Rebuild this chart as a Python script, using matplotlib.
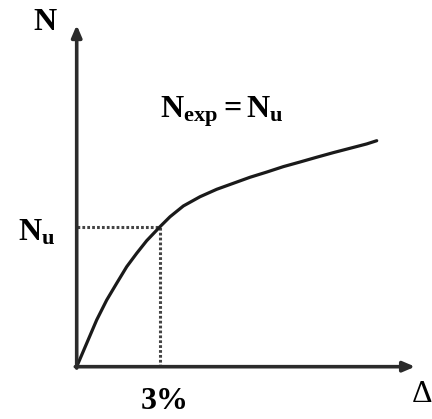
import matplotlib
matplotlib.use("Agg")
import matplotlib.pyplot as plt

plt.rcParams['font.family'] = ['Liberation Serif', 'DejaVu Serif']
plt.rcParams['mathtext.fontset'] = 'custom'
plt.rcParams['mathtext.rm'] = 'Liberation Serif:bold'
plt.rcParams['mathtext.it'] = 'Liberation Serif:bold'
plt.rcParams['mathtext.bf'] = 'Liberation Serif:bold'

# load-displacement curve (displacement in %, load normalised by Nu)
disp = [0, 0.36, 0.72, 1.08, 1.44, 1.80, 2.16, 2.52, 3.0, 3.36, 3.84, 4.44,
        5.04, 5.64, 6.24, 6.84, 7.44, 8.04, 8.64, 9.24, 9.84, 10.44, 10.80]
load = [0, 0.167, 0.334, 0.476, 0.596, 0.714, 0.81, 0.90, 1.0, 1.071, 1.148, 1.214,
        1.267, 1.31, 1.353, 1.39, 1.429, 1.462, 1.496, 1.529, 1.56, 1.591, 1.614]
disp_u = 3.0
load_u = 1.0
x_end, y_end = 12.18, 2.44

fig = plt.figure(figsize=(4.32, 4.19), dpi=100)
ax = fig.add_axes([0, 0, 1, 1])
ax.set_xlim(-2.761, 12.79)
ax.set_ylim(-0.3736, 2.619)
ax.axis('off')

axis_col = '#2b2b2b'
arrow = dict(arrowstyle='-|>,head_length=0.7,head_width=0.3', lw=2.6,
             color=axis_col, shrinkA=0, shrinkB=0)
ax.annotate('', xy=(0, y_end), xytext=(0, -0.01), arrowprops=arrow)
ax.annotate('', xy=(x_end, 0), xytext=(-0.05, 0), arrowprops=arrow)

# dotted guide lines
guide = dict(color='#444444', lw=2.2, ls=(0, (0.9, 0.7)))
ax.plot([0, disp_u], [load_u, load_u], **guide)
ax.plot([disp_u, disp_u], [0, load_u], **guide)

ax.plot(disp, load, color='#1a1a1a', lw=2.3, solid_capstyle='round',
        solid_joinstyle='round')

fs = 23
ax.text(-1.14, 2.46, 'N', fontsize=fs, fontweight='bold', ha='center', va='center')
ax.text(-1.43, 0.955, r'$\mathrm{N_u}$', fontsize=fs, ha='center', va='center')
ax.text(disp_u + 0.15, -0.25, '3%', fontsize=fs, fontweight='bold', ha='center', va='center')
ax.text(3.0, 1.82, r'$\mathrm{N_{exp} = N_u}$', fontsize=fs, ha='left', va='center')
ax.text(12.05, -0.2, 'Δ', fontsize=fs, ha='left', va='center')

fig.savefig('out.png', dpi=100)
